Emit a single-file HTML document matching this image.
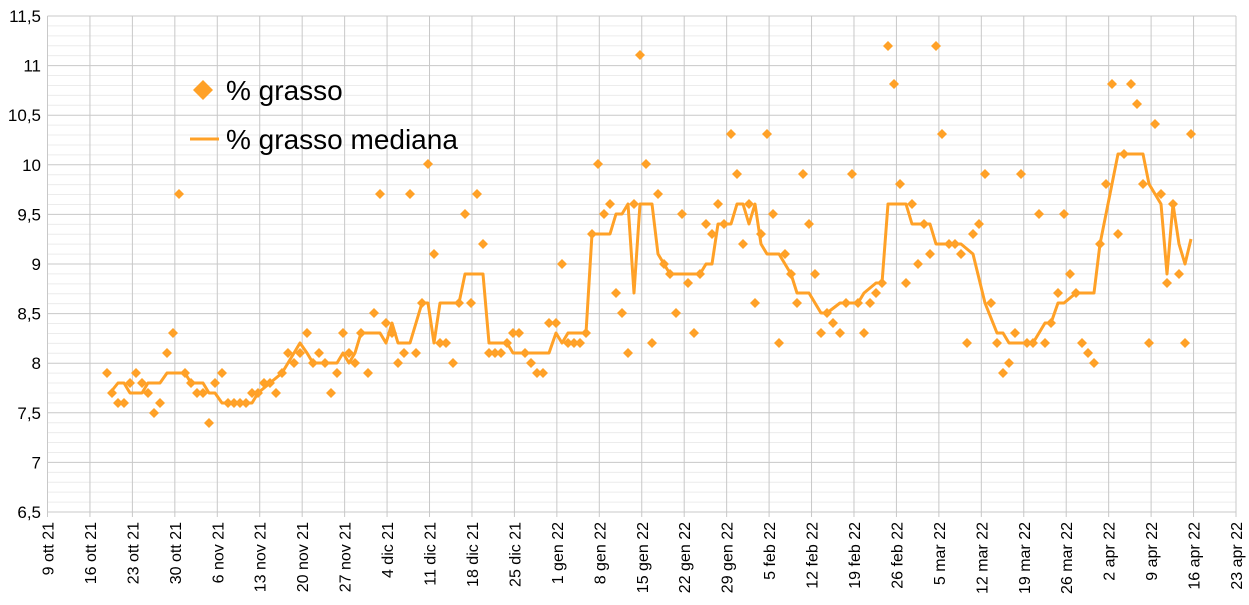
<!DOCTYPE html><html><head><meta charset="utf-8"><style>body{margin:0;background:#fff}svg{display:block;font-family:"Liberation Sans",sans-serif}</style></head><body>
<svg width="1249" height="605" xmlns="http://www.w3.org/2000/svg">
<g id="grid"></g>
<g id="txt" font-size="16" fill="#000"></g>
<polyline id="med" fill="none" stroke="#ffa127" stroke-width="3" stroke-linejoin="round"/>
<g id="pts" fill="#ffa127"></g>
<path d="M203,80 l10,10 -10,10 -10,-10z" fill="#ffa127"/>
<text x="226" y="100" font-size="28">% grasso</text>
<line x1="190" y1="139" x2="219" y2="139" stroke="#ffa127" stroke-width="3"/>
<text x="226" y="149" font-size="28">% grasso mediana</text>
<script>
const ns="http://www.w3.org/2000/svg";
const g=document.getElementById('grid'),t=document.getElementById('txt');
function el(p,tag,a,txt){const e=document.createElementNS(ns,tag);for(const k in a)e.setAttribute(k,a[k]);if(txt)e.textContent=txt;p.appendChild(e);}
const L=47.5,R=1236,T=16,B=512;
for(let i=0;i<=50;i++){const y=T+(B-T)*i/50;el(g,'line',{x1:L,x2:R,y1:y,y2:y,stroke:i%5?'#ececec':'#c8c8c8','stroke-width':1});}
const lab=["9 ott 21","16 ott 21","23 ott 21","30 ott 21","6 nov 21","13 nov 21","20 nov 21","27 nov 21","4 dic 21","11 dic 21","18 dic 21","25 dic 21","1 gen 22","8 gen 22","15 gen 22","22 gen 22","29 gen 22","5 feb 22","12 feb 22","19 feb 22","26 feb 22","5 mar 22","12 mar 22","19 mar 22","26 mar 22","2 apr 22","9 apr 22","16 apr 22","23 apr 22"];
lab.forEach((s,i)=>{const x=L+(R-L)*i/28;el(g,'line',{x1:x,x2:x,y1:T,y2:B+5,stroke:'#c8c8c8','stroke-width':1});el(t,'text',{x:0,y:0,transform:`translate(${x+6},${B+10}) rotate(-90)`,'text-anchor':'end'},s);});
for(let i=0;i<=10;i++){const v=11.5-i*0.5;el(t,'text',{x:41,y:T+49.6*i+6,'text-anchor':'end','font-size':17},String(v).replace('.',','));}
const P=[[107,373],[112,393],[118,403],[124,403],[130,383],[136,373],[142,383],[148,393],[154,413],[160,403],[167,353],[173,333],[179,194],[185,373],[191,383],[197,393],[203,393],[209,423],[215,383],[222,373],[228,403],[234,403],[240,403],[246,403],[252,393],[258,393],[264,383],[270,383],[276,393],[282,373],[288,353],[294,363],[300,353],[307,333],[313,363],[319,353],[325,363],[331,393],[337,373],[343,333],[349,353],[355,363],[361,333],[368,373],[374,313],[380,194],[386,323],[392,333],[398,363],[404,353],[410,194],[416,353],[422,303],[428,164],[434,254],[440,343],[446,343],[453,363],[459,303],[465,214],[471,303],[477,194],[483,244],[489,353],[495,353],[501,353],[507,343],[513,333],[519,333],[525,353],[531,363],[537,373],[543,373],[549,323],[556,323],[562,264],[568,343],[574,343],[580,343],[586,333],[592,234],[598,164],[604,214],[610,204],[616,293],[622,313],[628,353],[634,204],[640,55],[646,164],[652,343],[658,194],[664,264],[670,274],[676,313],[682,214],[688,283],[694,333],[700,274],[706,224],[712,234],[718,204],[724,224],[731,134],[737,174],[743,244],[749,204],[755,303],[761,234],[767,134],[773,214],[779,343],[785,254],[791,274],[797,303],[803,174],[809,224],[815,274],[821,333],[827,313],[833,323],[840,333],[846,303],[852,174],[858,303],[864,333],[870,303],[876,293],[882,283],[888,46],[894,84],[900,184],[906,283],[912,204],[918,264],[924,224],[930,254],[936,46],[942,134],[949,244],[955,244],[961,254],[967,343],[973,234],[979,224],[985,174],[991,303],[997,343],[1003,373],[1009,363],[1015,333],[1021,174],[1027,343],[1033,343],[1039,214],[1045,343],[1051,323],[1058,293],[1064,214],[1070,274],[1076,293],[1082,343],[1088,353],[1094,363],[1100,244],[1106,184],[1112,84],[1118,234],[1124,154],[1131,84],[1137,104],[1143,184],[1149,343],[1155,124],[1161,194],[1167,283],[1173,204],[1179,274],[1185,343],[1191,134]];
const pg=document.getElementById('pts');P.forEach(([x,y])=>el(pg,'path',{d:`M${x},${y-5}l5,5 -5,5 -5,-5z`}));
const M=[[110,393],[118,383],[124,383],[130,393],[142,393],[148,383],[160,383],[167,373],[185,373],[191,383],[203,383],[209,393],[215,393],[222,403],[252,403],[258,393],[270,383],[282,373],[288,363],[294,353],[300,343],[307,353],[313,363],[337,363],[343,353],[349,363],[355,353],[361,333],[380,333],[386,343],[392,323],[398,343],[410,343],[416,323],[422,303],[428,303],[434,343],[440,303],[459,303],[465,274],[483,274],[489,343],[507,343],[513,353],[549,353],[556,333],[562,343],[568,333],[586,333],[592,234],[610,234],[616,214],[622,214],[628,204],[634,293],[640,204],[652,204],[658,254],[664,264],[670,274],[700,274],[706,264],[712,264],[718,224],[731,224],[737,204],[743,204],[749,224],[755,204],[761,244],[767,254],[779,254],[785,264],[791,274],[797,293],[809,293],[815,303],[821,313],[827,313],[840,303],[858,303],[864,293],[876,283],[882,283],[888,204],[906,204],[912,224],[930,224],[936,244],[961,244],[973,254],[985,303],[997,333],[1003,333],[1009,343],[1033,343],[1039,333],[1045,323],[1051,323],[1058,303],[1064,303],[1076,293],[1094,293],[1100,244],[1106,214],[1118,154],[1124,154],[1143,154],[1149,184],[1155,194],[1161,204],[1167,274],[1173,204],[1179,244],[1185,264],[1191,239]];
document.getElementById('med').setAttribute('points',M.map(p=>p.join(',')).join(' '));
</script>
</svg></body></html>
